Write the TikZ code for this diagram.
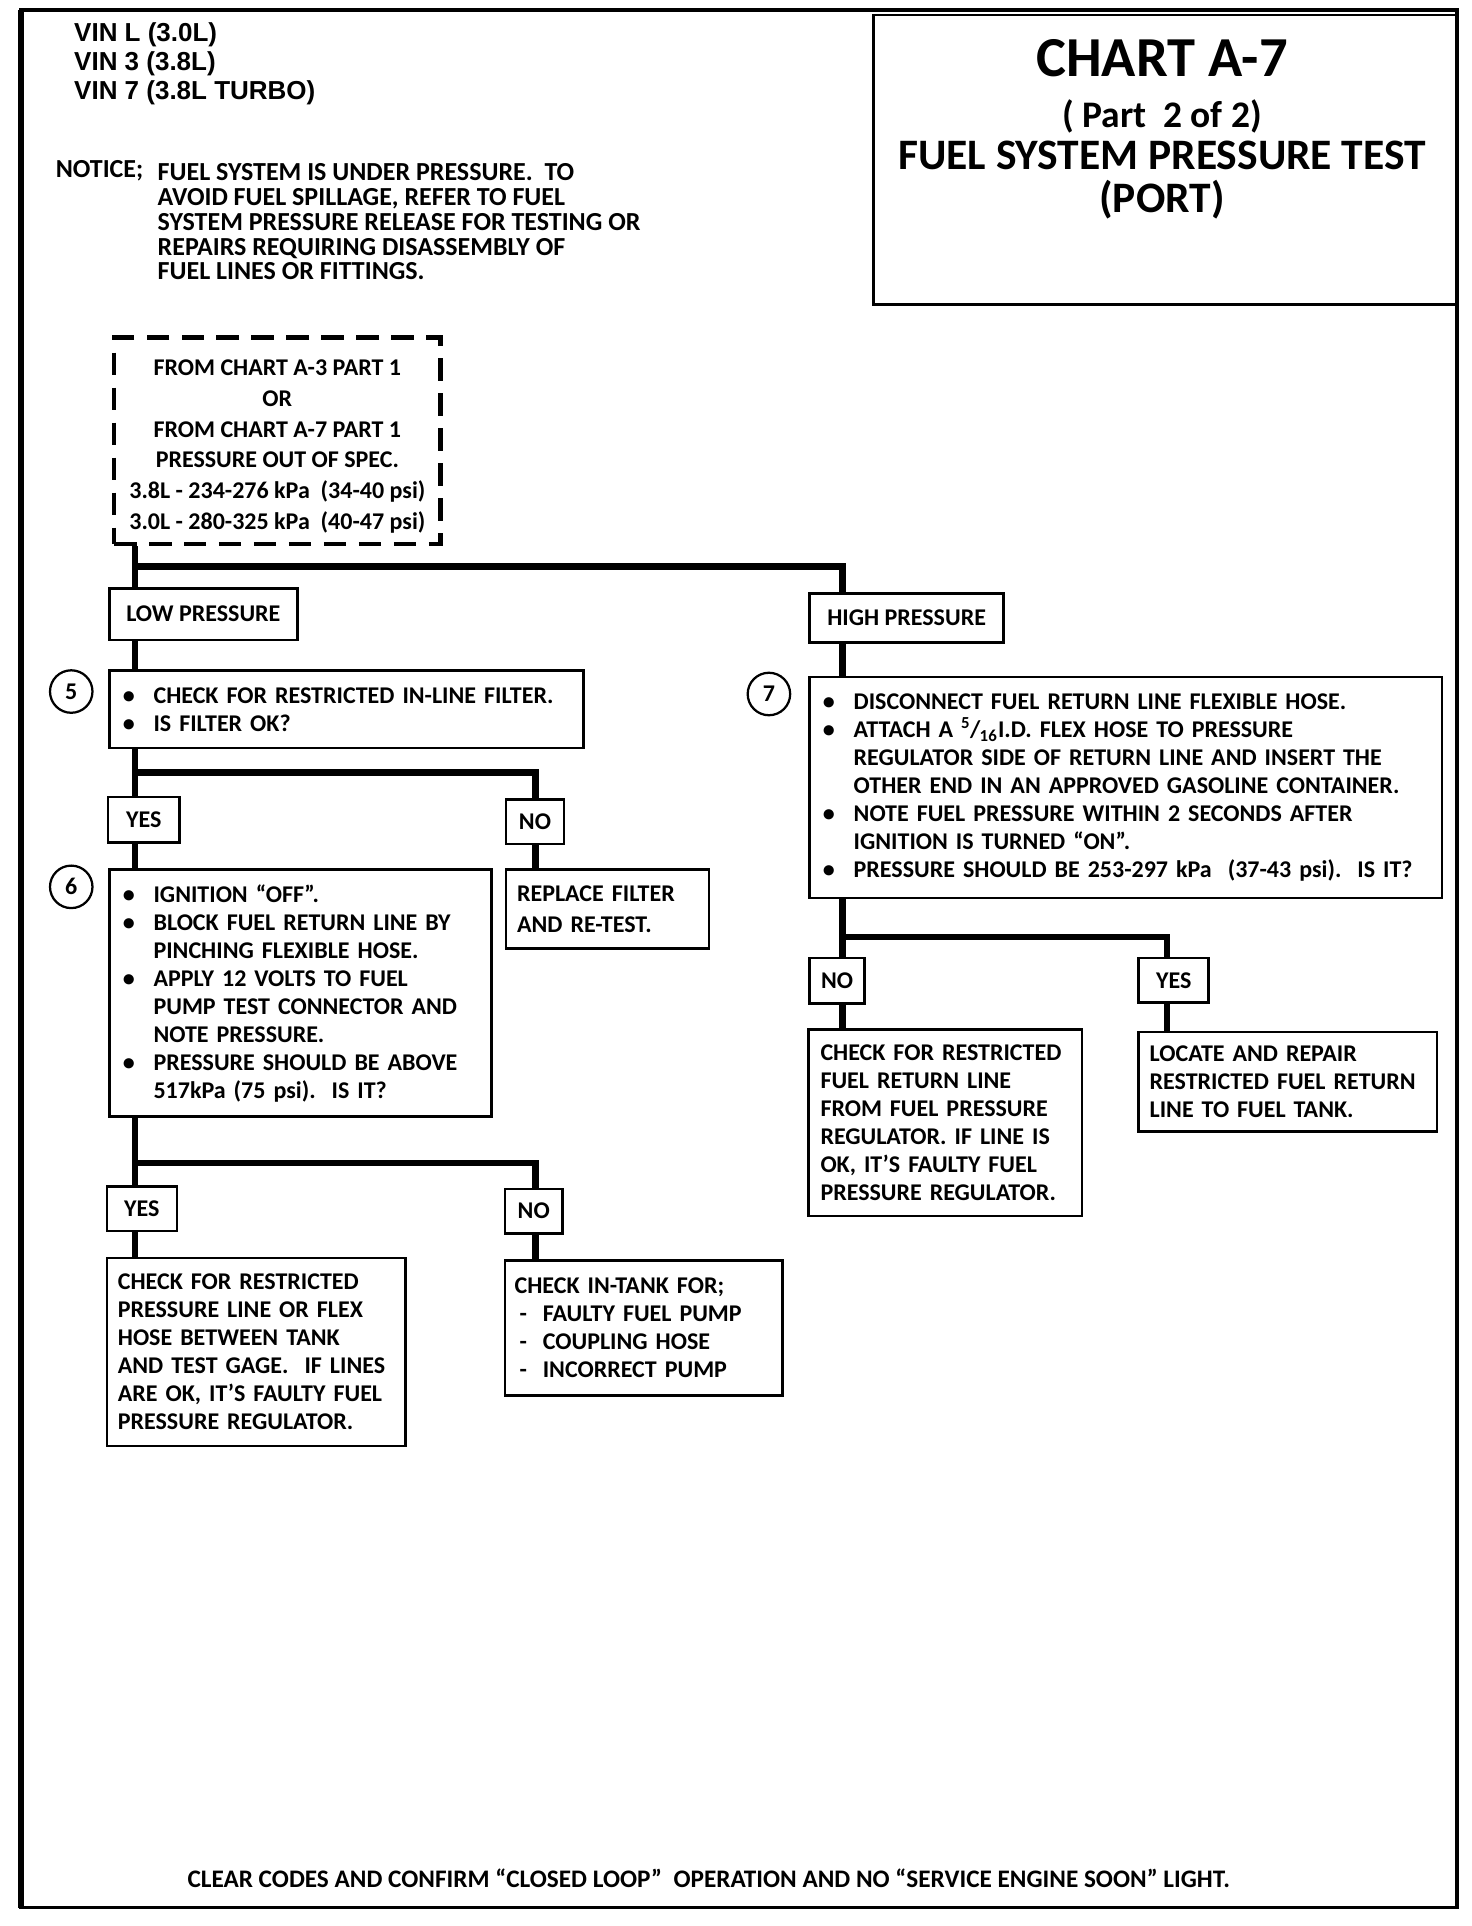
\documentclass[tikz,border=0pt]{standalone}
\usepackage{fontspec}
\setmainfont{Carlito}
\newfontfamily\vinfont{Liberation Sans}
\newcommand{\bul}{\makebox[12.3pt][l]{\textbullet}}
\newcommand{\ind}{\hspace*{12.3pt}}
\newcommand{\dsh}{\makebox[11.3pt][l]{\hspace{2pt}-}}
\begin{document}
\begin{tikzpicture}[x=0.4915pt,y=-0.4915pt,
  every node/.style={inner sep=0pt},
  fb/.style={font=\bfseries\fontsize{9.6}{11.2}\selectfont},
  box/.style={fb, draw, line width=1pt, anchor=north west, align=left, inner ysep=0pt},
  lbl/.style={fb, draw, line width=1pt, anchor=north west, align=center},
  conn/.style={line width=2.6pt},
  num/.style={circle, draw, line width=0.9pt, minimum size=17pt, font=\bfseries\fontsize{9.6}{9.6}\selectfont},
  ttl/.style={font=\bfseries\fontsize{#1}{#1}\selectfont, anchor=base},
]
\useasboundingbox (0,0) rectangle (1198,1568);
\fill[white] (0,0) rectangle (1198,1568);
% frame
\draw[line width=1.4pt] (17,8) rectangle (1186,1553);
\draw[line width=2.4pt] (17,8) -- (17,1553);

% title block
\node[draw, line width=1pt, anchor=north west, minimum width=234pt, minimum height=116pt] (title) at (710,11) {};
\node[ttl=22.6] (t1) at (946,62) {CHART A-7};
\node[ttl=15] (t2) at (946,104) {( Part\ \ 2 of 2)};
\node[ttl=17.4] (t3) at (946,138) {FUEL SYSTEM PRESSURE TEST};
\node[ttl=17.4] (t4) at (946,173) {(PORT)};

% VIN
\node[font=\vinfont\bfseries\fontsize{10.4}{11.55}\selectfont, anchor=north west, align=left] (vin) at (60,18)
  {VIN L (3.0L)\\VIN 3 (3.8L)\\VIN 7 (3.8L TURBO)};

% notice
\node[font=\bfseries\fontsize{10.4}{9.9}\selectfont, anchor=north west] (noticel) at (45,130) {NOTICE;};
\node[font=\bfseries\fontsize{10.4}{9.9}\selectfont, anchor=north west, align=left] (noticet) at (128,133)
  {FUEL SYSTEM IS UNDER PRESSURE.\ \ TO\\AVOID FUEL SPILLAGE, REFER TO\ FUEL\\SYSTEM\ PRESSURE RELEASE FOR TESTING OR\\REPAIRS\ REQUIRING DISASSEMBLY\ OF\\FUEL LINES OR FITTINGS.};

% start box
\node[fb, font=\bfseries\fontsize{9.6}{12.3}\selectfont, draw, line width=1.8pt, dash pattern=on 9pt off 5pt,
  anchor=north west, align=center, minimum width=130.7pt, minimum height=82.6pt] (src) at (91,273)
  {\rule{0pt}{10.8pt}FROM CHART A-3 PART 1\\OR\\FROM CHART A-7 PART 1\\PRESSURE OUT OF SPEC.\\3.8L - 234-276 kPa\ \ (34-40 psi)\\3.0L - 280-325 kPa\ \ (40-47 psi)};

% left column
\node[lbl, minimum width=75.2pt, minimum height=20.6pt] (lowp) at (88,478) {LOW PRESSURE};
\node[box, minimum height=31pt, text width=178.9pt, inner xsep=5.4pt] (b5) at (88,545)
  {\bul CHECK FOR RESTRICTED IN-LINE FILTER.\\\bul IS FILTER OK?};
\node[num] (n5) at (58,563) {5};
\node[lbl, minimum width=28.5pt, minimum height=18.2pt] (yes1) at (87,648) {YES};
\node[lbl, minimum width=23.1pt, minimum height=17.7pt] (no1) at (411,650) {NO};
\node[box, minimum height=98.8pt, text width=142.1pt, inner xsep=5.4pt] (b6) at (88,707)
  {\bul IGNITION “OFF”.\\
   \bul BLOCK FUEL RETURN LINE BY\\
   \ind PINCHING FLEXIBLE HOSE.\\
   \bul APPLY 12 VOLTS TO FUEL\\
   \ind PUMP TEST CONNECTOR AND\\
   \ind NOTE PRESSURE.\\
   \bul PRESSURE SHOULD BE ABOVE\\
   \ind 517kPa (75 psi).\ \ IS IT?};
\node[num] (n6) at (58,722) {6};
\node[box, font=\bfseries\fontsize{9.6}{12.3}\selectfont, minimum height=31.5pt, text width=72.3pt, inner xsep=4.4pt] (repl) at (411,707)
  {REPLACE FILTER\\AND RE-TEST.};
\node[lbl, minimum width=28pt, minimum height=17.7pt] (yes2) at (86,965) {YES};
\node[lbl, minimum width=23.1pt, minimum height=17.7pt] (no2) at (410,967) {NO};
\node[box, minimum height=75.2pt, text width=110.6pt, inner xsep=4.4pt] (b8) at (86,1023)
  {CHECK FOR RESTRICTED\\PRESSURE LINE OR FLEX\\HOSE BETWEEN TANK\\AND TEST GAGE.\ \ IF LINES\\ARE OK, IT’S FAULTY FUEL\\PRESSURE REGULATOR.};
\node[box, minimum height=54.1pt, text width=103.3pt, inner xsep=3.9pt] (b9) at (410,1025)
  {CHECK IN-TANK FOR;\\\dsh FAULTY FUEL PUMP\\\dsh COUPLING HOSE\\\dsh INCORRECT PUMP};

% right column
\node[lbl, minimum width=77.7pt, minimum height=19.7pt] (highp) at (658,482) {HIGH PRESSURE};
\node[box, minimum height=88.5pt, text width=242.3pt, inner xsep=5.4pt] (b7) at (658,550)
  {\bul DISCONNECT FUEL RETURN LINE FLEXIBLE HOSE.\\
   \bul ATTACH A \textsuperscript{5}\kern-0.3pt/\kern-0.3pt\textsubscript{16}I.D. FLEX HOSE TO PRESSURE\\
   \ind REGULATOR SIDE OF RETURN LINE AND INSERT THE\\
   \ind OTHER END IN\ AN\ APPROVED GASOLINE CONTAINER.\\
   \bul NOTE FUEL PRESSURE WITHIN 2 SECONDS AFTER\\
   \ind IGNITION IS TURNED “ON”.\\
   \bul PRESSURE SHOULD BE 253-297 kPa\ \ (37-43 psi).\ \ IS IT?};
\node[num] (n7) at (626,565) {7};
\node[lbl, minimum width=22.1pt, minimum height=18.2pt] (no3) at (658,779) {NO};
\node[lbl, minimum width=28pt, minimum height=17.7pt] (yes3) at (926,779) {YES};
\node[box, minimum height=74.7pt, text width=99.8pt, inner xsep=4.9pt] (b10) at (657,837)
  {CHECK FOR RESTRICTED\\FUEL RETURN LINE\\FROM FUEL PRESSURE\\REGULATOR. IF LINE IS\\OK, IT’S FAULTY FUEL\\PRESSURE REGULATOR.};
\node[box, minimum height=39.8pt, text width=110.6pt, inner xsep=4.4pt] (b11) at (926,839)
  {LOCATE AND REPAIR\\RESTRICTED FUEL RETURN\\LINE TO FUEL TANK.};

% footer
\node[font=\bfseries\fontsize{10.1}{11}\selectfont, anchor=base] (foot) at (577,1537) {CLEAR CODES AND CONFIRM “CLOSED LOOP”\ \ OPERATION AND NO “SERVICE ENGINE SOON” LIGHT.};

% connectors
\coordinate (tL) at (110,0);
\coordinate (tR) at (686,0);
\coordinate (tM) at (436,0);
\coordinate (tY) at (950,0);
\coordinate (j0) at (110,461);
\coordinate (j1) at (110,629);
\coordinate (j2) at (110,947);
\coordinate (j3) at (686,763);

\draw[conn] (src.south -| tL) -- (lowp.north -| tL);
\draw[conn] (j0) -| (highp.north -| tR);
\draw[conn] (lowp.south -| tL) -- (b5.north -| tL);
\draw[conn] (b5.south -| tL) -- (yes1.north -| tL);
\draw[conn] (j1) -| (no1.north -| tM);
\draw[conn] (yes1.south -| tL) -- (b6.north -| tL);
\draw[conn] (no1.south -| tM) -- (repl.north -| tM);
\draw[conn] (b6.south -| tL) -- (yes2.north -| tL);
\draw[conn] (j2) -| (no2.north -| tM);
\draw[conn] (yes2.south -| tL) -- (b8.north -| tL);
\draw[conn] (no2.south -| tM) -- (b9.north -| tM);
\draw[conn] (highp.south -| tR) -- (b7.north -| tR);
\draw[conn] (b7.south -| tR) -- (no3.north -| tR);
\draw[conn] (j3) -| (yes3.north -| tY);
\draw[conn] (no3.south -| tR) -- (b10.north -| tR);
\draw[conn] (yes3.south -| tY) -- (b11.north -| tY);
\end{tikzpicture}
\end{document}
